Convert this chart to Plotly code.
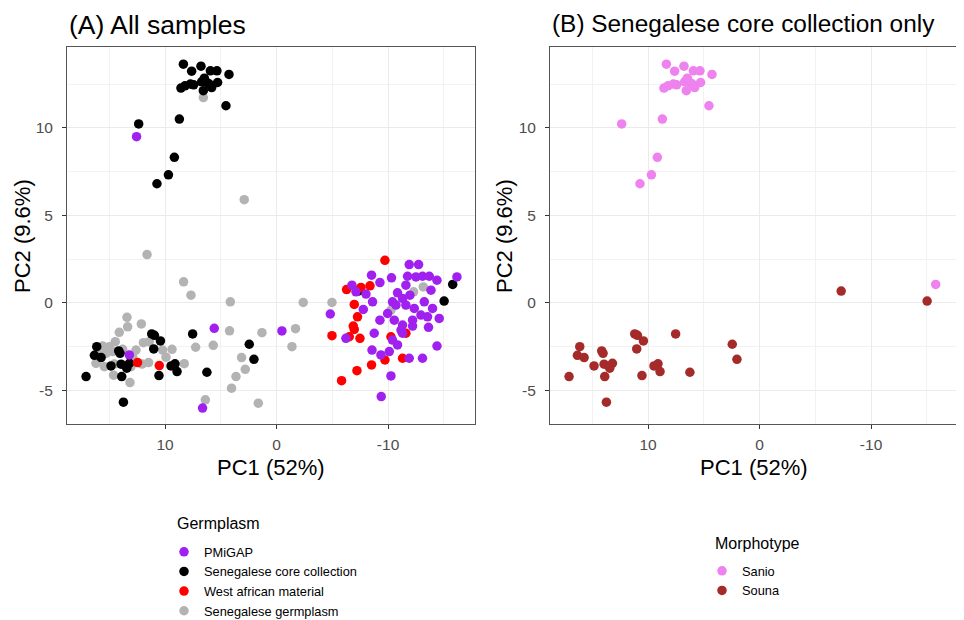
import plotly.graph_objects as go

# ---- data (PC1, PC2) ----
sanio_pc1 = [8.36, 6.78, 7.62, 5.94, 5.35, 4.27, 8.58, 8.22, 7.73, 7.44, 6.72, 6.48, 6.25, 6.57,
             5.82, 5.29, 6.03, 4.54, 8.72, 12.37, 9.17, 9.70, 10.73, -15.8]
sanio_pc2 = [13.65, 13.53, 13.25, 13.27, 13.27, 13.06, 12.28, 12.41, 12.51, 12.47, 12.64, 12.85, 12.6, 12.13,
             12.31, 12.6, 12.51, 11.27, 10.51, 10.23, 8.32, 7.32, 6.81, 1.05]

souna_pc1 = [-7.32, -15.03, 16.13, 16.34, 15.74, 14.85, 17.09, 14.16, 14.04, 13.95, 13.44, 13.2, 13.89,
             13.74, 11.2, 10.96, 10.42, 11.02, 10.55, 9.47, 9.11, 8.93, 7.53, 6.25, 2.45, 2.03]
souna_pc2 = [0.67, 0.1, -2.51, -3.0, -3.13, -3.61, -4.22, -2.75, -2.89, -3.51, -3.74, -3.46, -4.22,
             -5.68, -1.78, -1.86, -2.18, -2.64, -4.16, -3.61, -3.49, -3.93, -1.78, -3.97, -2.37, -3.23]

germ_pc1 = [6.57, 2.9, 11.62, 8.34, 7.68, 4.15, -2.39, -4.97, -12.29, -13.16, -10.26, 4.22, 1.31, -1.7,
            -1.38, 7.26, 5.68, 3.14, 2.81, 3.64, 4.04, 6.39, 1.64, 8.28,
            13.42, 13.36, 14.11, 12.13, 11.95, 12.61, 14.47, 15.6, 15.0, 16.05, 15.3, 14.71, 13.81,
            15.75, 16.2, 15.45, 14.56, 12.91, 13.06, 12.07, 11.48, 14.62, 13.15, 10.22, 9.38, 9.92, 11.42]
germ_pc2 = [11.74, 5.9, 2.76, 1.2, 0.44, 0.06, 0.02, 0.02, 0.63, 0.91, -0.42, -1.6, -1.71, -1.48,
            -2.51, -2.54, -2.43, -3.13, -3.8, -4.22, -4.88, -5.55, -5.74, -3.48,
            -0.83, -1.37, -1.69, -1.21, -2.28, -2.7, -2.22, -2.47, -2.51, -2.85, -2.89, -2.79, -2.66,
            -3.08, -3.46, -3.65, -3.5, -3.08, -3.65, -3.5, -3.42, -4.14, -4.56, -2.7, -2.66, -3.11, -2.22]

west_pc1 = [-9.72, -6.28, -7.57, -8.38, -6.97, -7.26, -6.88, -6.97, -4.97, -6.52, -7.48, -10.26,
            -11.6, -9.72, -11.3, -8.52, -7.21, -5.83, 10.52, 12.47]
west_pc2 = [2.43, 0.76, 0.88, 0.97, -0.09, -0.8, -1.33, -1.52, -1.88, -1.94, -2.03, -1.94,
            -1.74, -3.27, -3.17, -3.55, -3.88, -4.45, -3.59, -3.42]

pmigap_pc1 = [12.56, 13.21, 5.59, -0.48, 6.64, -4.82, -6.22, -6.76, -7.12, -8.52, -9.27, -7.78, -8.02,
              -8.61, -8.76, -8.56, -9.36, -10.11, -9.39, -10.26, -10.31, -11.9, -12.74, -11.75, -12.5,
              -13.09, -13.7, -14.39, -16.18, -13.85, -11.6, -10.85, -11.3, -11.96, -10.4, -10.71,
              -11.6, -12.35, -13.25, -13.99, -14.59, -13.54, -12.95, -12.2, -9.27, -9.96, -10.56,
              -11.3, -12.2, -11.16, -13.63, -10.4, -10.85, -14.39, -11.9, -13.09, -11.3]
pmigap_pc2 = [9.5, -2.98, -1.46, -1.61, -6.02, -0.64, -2.03, 1.01, 0.63, 1.58, 1.16, -0.38, 0.5,
              0.06, -1.74, -2.7, -2.98, -2.79, -5.36, -4.18, 1.43, 2.19, 2.19, 1.52, 1.48,
              1.52, 1.52, 1.29, 1.48, 0.72, 1.01, 0.57, 0.25, 0.44, 0.06, -0.13,
              -0.13, -0.32, 0.06, -0.32, -0.89, -0.8, -0.7, -0.99, -0.99, -0.61, -0.99,
              -1.27, -1.33, -1.56, -1.4, -2.13, -2.41, -2.47, -3.17, -3.17, -1.74]

core_pc1 = sanio_pc1 + souna_pc1
core_pc2 = sanio_pc2 + souna_pc2

x_tickvals = [10, 0, -10]
x_ticktext = ["10", "0", "-10"]
y_tickvals = [-5, 0, 5, 10]
y_ticktext = ["-5", "0", "5", "10"]

FONT = "Liberation Sans, Arial, Helvetica, sans-serif"
MS = 9.5

fig = go.Figure()

def add(x, y, name, color, xa, ya, legend, rank):
    fig.add_trace(go.Scatter(
        x=x, y=y, mode="markers", name=name,
        marker=dict(color=color, size=MS, line=dict(width=0)),
        xaxis=xa, yaxis=ya, legend=legend, legendrank=rank,
    ))

# Panel A
add(germ_pc1, germ_pc2, "Senegalese germplasm", "#B3B3B3", "x", "y", "legend", 4)
add(core_pc1, core_pc2, "Senegalese core collection", "#000000", "x", "y", "legend", 2)
add(west_pc1, west_pc2, "West african material", "#FF0000", "x", "y", "legend", 3)
add(pmigap_pc1, pmigap_pc2, "PMiGAP", "#A020F0", "x", "y", "legend", 1)
# Panel B
add(sanio_pc1, sanio_pc2, "Sanio", "#EE82EE", "x2", "y2", "legend2", 1)
add(souna_pc1, souna_pc2, "Souna", "#A52A2A", "x2", "y2", "legend2", 2)

# the page body margin shifts the figure by 8 px; positions below are given in window pixels
OFF = 8
W, H = 964, 620
def sx(v):
    return (v - OFF) / W
def sy(v):
    return 1 - (v - OFF) / H

ydom = [sy(424), sy(47)]

def axis_style(rng, tv, tt, minor_dt, standoff):
    return dict(range=rng, tickvals=tv, ticktext=tt,
                showgrid=True, gridcolor="#EBEBEB", gridwidth=1.1,
                minor=dict(dtick=minor_dt, tick0=0, showgrid=True, gridcolor="#F2F2F2",
                           gridwidth=0.6, ticks=""),
                zeroline=False, showline=True, linecolor="#555555", linewidth=1, mirror=True,
                ticks="outside", ticklen=4, tickcolor="#333333", tickwidth=1,
                ticklabelstandoff=standoff,
                tickfont=dict(family=FONT, size=15.5, color="#4D4D4D"))

fig.update_layout(
    width=W, height=H, margin=dict(l=0, r=0, t=0, b=0),
    paper_bgcolor="white", plot_bgcolor="white",
    font=dict(family=FONT, color="#000000"),
    xaxis=dict(domain=[sx(67), sx(475)], anchor="y",
               **axis_style([18.8, -17.8], x_tickvals, x_ticktext, 5, 2)),
    yaxis=dict(domain=ydom, anchor="x",
               **axis_style([-6.93, 14.63], y_tickvals, y_ticktext, 2.5, 6)),
    xaxis2=dict(domain=[sx(550), sx(958)], anchor="y2",
                **axis_style([18.8, -17.8], x_tickvals, x_ticktext, 5, 2)),
    yaxis2=dict(domain=ydom, anchor="x2",
                **axis_style([-6.93, 14.63], y_tickvals, y_ticktext, 2.5, 6)),
    legend=dict(x=sx(164), y=sy(537), xanchor="left", yanchor="top",
                font=dict(family=FONT, size=12.8), bgcolor="rgba(0,0,0,0)", tracegroupgap=0),
    legend2=dict(x=sx(702), y=sy(556), xanchor="left", yanchor="top",
                 font=dict(family=FONT, size=12.8), bgcolor="rgba(0,0,0,0)", tracegroupgap=0),
    showlegend=True,
)

ann = [
    dict(text="(A) All samples", x=sx(67), y=sy(8), xanchor="left", yanchor="top",
         font=dict(size=26.5)),
    dict(text="(B) Senegalese core collection only", x=sx(550), y=sy(8), xanchor="left",
         yanchor="top", font=dict(size=24.4)),
    dict(text="PC1 (52%)", x=sx(271), y=sy(467), xanchor="center", yanchor="middle",
         font=dict(size=22)),
    dict(text="PC1 (52%)", x=sx(754), y=sy(467), xanchor="center", yanchor="middle",
         font=dict(size=22)),
    dict(text="PC2 (9.6%)", x=sx(23), y=sy(236), xanchor="center", yanchor="middle",
         textangle=-90, font=dict(size=22)),
    dict(text="PC2 (9.6%)", x=sx(505), y=sy(236), xanchor="center", yanchor="middle",
         textangle=-90, font=dict(size=22)),
    dict(text="Germplasm", x=sx(175), y=sy(523), xanchor="left", yanchor="middle",
         font=dict(size=16)),
    dict(text="Morphotype", x=sx(713), y=sy(543), xanchor="left", yanchor="middle",
         font=dict(size=16)),
]
for a in ann:
    a.update(xref="paper", yref="paper", showarrow=False)
    a["font"].update(family=FONT, color="#000000")
fig.update_layout(annotations=ann)

fig.write_html("out.html")
